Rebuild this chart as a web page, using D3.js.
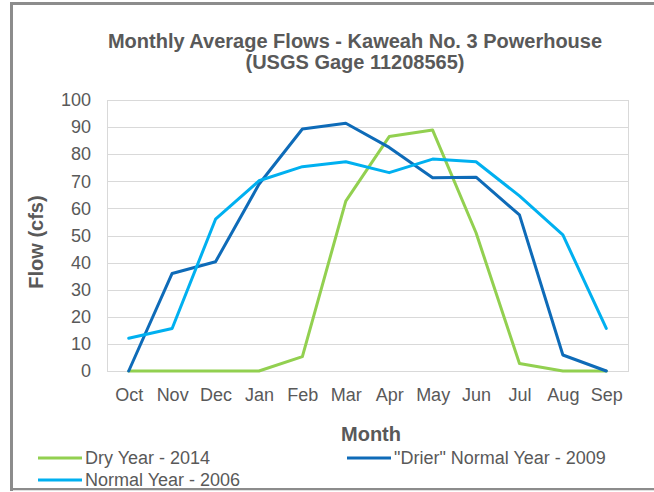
<!DOCTYPE html>
<html>
<head>
<meta charset="utf-8">
<script src="https://cdn.jsdelivr.net/npm/d3@7"></script>
<style>
  html, body { margin: 0; padding: 0; background: #fff; }
  svg { display: block; }
  text { font-family: "Liberation Sans", Arial, sans-serif; }
</style>
</head>
<body>
<svg id="chart" width="654" height="492"></svg>
<script>
const months = ["Oct","Nov","Dec","Jan","Feb","Mar","Apr","May","Jun","Jul","Aug","Sep"];
const dryYear2014 = [0, 0, 0, 0, 5.3, 62.7, 86.5, 88.9, 51.0, 2.8, 0, 0];
const drierNormal2009 = [0, 36.0, 40.3, 68.9, 89.3, 91.4, 82.5, 71.3, 71.5, 57.6, 5.9, 0];
const normal2006 = [12.1, 15.7, 56.0, 70.2, 75.4, 77.2, 73.2, 78.2, 77.2, 64.6, 50.2, 15.7];
const yTicks = [0, 10, 20, 30, 40, 50, 60, 70, 80, 90, 100];
const seriesNames = ["Dry Year - 2014", "\"Drier\" Normal Year - 2009", "Normal Year - 2006"];
const seriesColors = ["#92D050", "#0E6BB8", "#00B0F0"];

const series = [
  { name: seriesNames[0], values: dryYear2014, color: seriesColors[0] },
  { name: seriesNames[1], values: drierNormal2009, color: seriesColors[1] },
  { name: seriesNames[2], values: normal2006, color: seriesColors[2] }
];

const svg = d3.select("#chart");
const W = 654, H = 492;
const plot = { left: 107, right: 628, top: 100, bottom: 371 };

// outer frame
svg.append("rect").attr("x", 11.5).attr("y", 3.5).attr("width", W).attr("height", 486)
  .attr("fill", "none").attr("stroke", "#8c8c8c").attr("stroke-width", 3);
svg.append("line").attr("x1", 13).attr("x2", W).attr("y1", 490.5).attr("y2", 490.5)
  .attr("stroke", "#e0e0e0").attr("stroke-width", 1);

const x = d3.scalePoint().domain(months).range([plot.left, plot.right]).padding(0.5);
const y = d3.scaleLinear().domain([0, 100]).range([plot.bottom, plot.top]);

// gridlines
svg.append("g").selectAll("line").data(yTicks.filter(d => d > 0)).join("line")
  .attr("x1", plot.left).attr("x2", plot.right)
  .attr("y1", d => Math.round(y(d)) + 0.5).attr("y2", d => Math.round(y(d)) + 0.5)
  .attr("stroke", "#d9d9d9").attr("stroke-width", 1);
// plot border
svg.append("rect").attr("x", plot.left + 0.5).attr("y", plot.top + 0.5)
  .attr("width", plot.right - plot.left).attr("height", plot.bottom - plot.top)
  .attr("fill", "none").attr("stroke", "#d9d9d9");

// y axis
const yAxis = d3.axisLeft(y).tickValues(yTicks).tickSize(0).tickPadding(0);
const gy = svg.append("g").attr("transform", `translate(${plot.left - 16},0)`).call(yAxis);
gy.select(".domain").remove();
gy.selectAll("text").attr("fill", "#595959").style("font-size", "18px");

// x axis
const xAxis = d3.axisBottom(x).tickSize(0).tickPadding(0);
const gx = svg.append("g").attr("transform", `translate(0,${plot.bottom + 17})`).call(xAxis);
gx.select(".domain").remove();
gx.selectAll("text").attr("fill", "#595959").style("font-size", "18px");

// lines
const line = d3.line().x((d, i) => x(months[i])).y(d => y(d));
svg.append("g").selectAll("path").data(series).join("path")
  .attr("d", d => line(d.values))
  .attr("fill", "none")
  .attr("stroke", d => d.color)
  .attr("stroke-width", 3)
  .attr("stroke-linejoin", "round")
  .attr("stroke-linecap", "round");

// title
const title = svg.append("text").attr("x", 355).attr("text-anchor", "middle")
  .attr("fill", "#595959").style("font-size", "20px").style("font-weight", "bold");
title.append("tspan").attr("x", 355).attr("y", 48).text("Monthly Average Flows - Kaweah No. 3 Powerhouse");
title.append("tspan").attr("x", 355).attr("y", 69).text("(USGS Gage 11208565)");

// axis titles
svg.append("text").attr("x", 371).attr("y", 441).attr("text-anchor", "middle")
  .attr("fill", "#595959").style("font-size", "20px").style("font-weight", "bold").text("Month");
svg.append("text").attr("transform", "translate(43,242) rotate(-90)").attr("text-anchor", "middle")
  .attr("fill", "#595959").style("font-size", "20px").style("font-weight", "bold").text("Flow (cfs)");

// legend
const legendPos = [[38, 458], [347, 458], [38, 480]];
const lg = svg.append("g").selectAll("g").data(series).join("g")
  .attr("transform", (d, i) => `translate(${legendPos[i][0]},${legendPos[i][1]})`);
lg.append("line").attr("x1", 0).attr("x2", 44).attr("y1", 0).attr("y2", 0)
  .attr("stroke", d => d.color).attr("stroke-width", 3);
lg.append("text").attr("x", 47).attr("y", 0).attr("dy", "0.35em")
  .attr("fill", "#595959").style("font-size", "18px").text(d => d.name);
</script>
</body>
</html>
